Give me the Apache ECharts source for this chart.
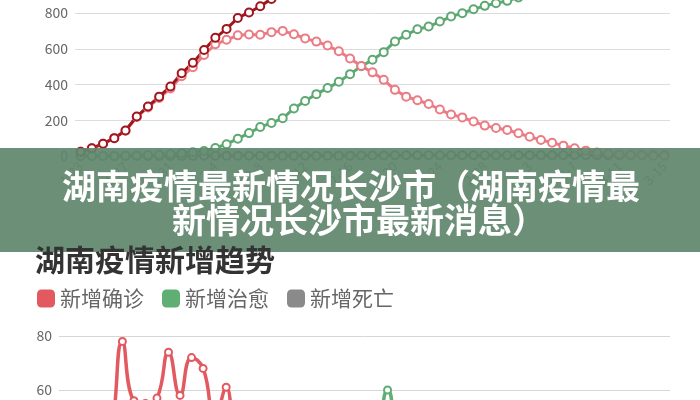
<!DOCTYPE html>
<html>
<head>
<meta charset="utf-8">
<script src="https://cdn.jsdelivr.net/npm/echarts@6/dist/echarts.min.js"></script>
<style>
html,body{margin:0;padding:0;background:#fff;overflow:hidden;width:700px;height:400px;}
#main{position:absolute;left:0;top:-100px;width:700px;height:800px;}
</style>
</head>
<body>
<div id="main"></div>
<script>
// Dates (1-23 .. 3-15)
const dates = ['1-23','1-24','1-25','1-26','1-27','1-28','1-29','1-30','1-31',
  '2-1','2-2','2-3','2-4','2-5','2-6','2-7','2-8','2-9','2-10','2-11','2-12','2-13','2-14','2-15','2-16','2-17','2-18','2-19','2-20','2-21','2-22','2-23','2-24','2-25','2-26','2-27','2-28','2-29',
  '3-1','3-2','3-3','3-4','3-5','3-6','3-7','3-8','3-9','3-10','3-11','3-12','3-13','3-14','3-15'];

// Top chart: cumulative numbers
const cumConfirmed = [24,43,69,100,143,221,277,332,389,
  463,521,593,661,711,772,803,838,879,912,946,968,988,1001,1004,1006,1007,1008,1010,1011,1013,1016,1016,1016,1016,1017,1017,1018,1018,
  1018,1018,1018,1018,1018,1018,1018,1018,1018,1018,1018,1018,1018,1018,1018];
const currentConfirmed = [24,43,69,100,141,218,272,324,378,
  446,497,565,625,650,675,680,678,693,700,681,658,640,618,586,545,503,468,426,370,332,312,291,260,232,216,193,170,157,
  146,127,108,90,74,58,43,30,20,13,9,6,4,2,1];
const cumCured = [0,0,0,0,2,3,5,7,11,
  15,21,28,45,66,97,128,162,185,211,266,308,346,380,415,458,502,538,581,641,678,709,724,752,780,799,821,840,855,
  868,887,906,924,940,956,971,984,994,1001,1005,1008,1010,1012,1013];
const cumDeaths = [0,0,0,0,0,0,0,0,0,
  0,0,1,1,1,1,1,2,2,2,2,2,2,2,2,2,3,3,3,4,4,4,4,4,4,4,4,4,4,
  4,4,4,4,4,4,4,4,4,4,4,4,4,4,4];

// Bottom chart: daily new numbers
const newConfirmed = [15,19,26,31,43,78,56,55,57,
  74,58,72,68,50,61,31,35,41,33,34,22,20,13,3,2,1,1,2,1,2,3,0,0,0,1,0,1,0,
  0,0,0,0,0,0,0,0,0,0,0,0,0,0,0];
const newCured = [0,0,0,0,2,1,2,2,4,
  4,6,7,17,21,31,31,34,23,26,50,42,38,34,35,43,44,36,43,60,37,31,15,28,28,19,22,19,15,
  13,19,19,18,16,16,15,13,10,7,4,3,2,2,1];
const newDeaths = [0,0,0,0,0,0,0,0,0,
  0,0,1,0,0,0,0,1,0,0,0,0,0,0,0,0,1,0,0,1,0,0,0,0,0,0,0,0,0,
  0,0,0,0,0,0,0,0,0,0,0,0,0,0,0];

const topTicks = [0, 1200, 200];
const bottomTicks = [0, 80, 20];
const bannerLines = ['湖南疫情最新情况长沙市（湖南疫情最', '新情况长沙市最新消息）'];
const bottomTitle = '湖南疫情新增趋势';
const legendNames = ['新增确诊', '新增治愈', '新增死亡'];

// The chart canvas is taller than the window and shifted up by OFF px,
// so both panels can extend beyond the visible 700x400 area.
const OFF = 100;
const FONT = '"Noto Sans CJK SC","Noto Sans",sans-serif';
const chart = echarts.init(document.getElementById('main'), null, {renderer: 'canvas'});

function topLine(name, data, color) {
  return {
    name: name, type: 'line', xAxisIndex: 0, yAxisIndex: 0, data: data,
    symbol: 'emptyCircle', symbolSize: 8, showAllSymbol: true,
    lineStyle: {width: 3, color: color},
    itemStyle: {color: color, borderWidth: 1.5},
    animation: false
  };
}
function botLine(name, data, color) {
  return {
    name: name, type: 'line', xAxisIndex: 1, yAxisIndex: 1, data: data,
    smooth: true, symbol: 'emptyCircle', symbolSize: 7, showAllSymbol: true,
    lineStyle: {width: 3.5, color: color},
    itemStyle: {color: color, borderWidth: 1.5},
    animation: false
  };
}

chart.setOption({
  animation: false,
  backgroundColor: '#fff',
  title: {
    text: bottomTitle, left: 35, top: 245 + OFF, padding: 0, z: 120,
    textStyle: {fontSize: 30, fontWeight: 'bold', color: '#333', fontFamily: FONT, lineHeight: 30}
  },
  legend: {
    data: legendNames, left: 37, top: 288 + OFF, padding: 0,
    icon: 'roundRect', itemWidth: 18, itemHeight: 18, itemGap: 18,
    textStyle: {fontSize: 21, color: '#666', fontFamily: FONT},
    selectedMode: false
  },
  grid: [
    {left: 75, right: 30, top: OFF - 58.5, bottom: 800 - (156 + OFF), containLabel: false},
    {left: 59, right: 30, top: 336 + OFF, bottom: 800 - (552 + OFF), containLabel: false}
  ],
  xAxis: [
    {
      type: 'category', gridIndex: 0, data: dates, boundaryGap: true,
      axisLine: {show: false}, axisTick: {show: false},
      axisLabel: {rotate: 45, interval: 3, color: '#777', fontSize: 13, fontFamily: FONT, margin: 8}
    },
    {
      type: 'category', gridIndex: 1, data: dates, boundaryGap: true,
      axisLine: {show: false}, axisTick: {show: false},
      axisLabel: {rotate: 45, interval: 3, color: '#777', fontSize: 13, fontFamily: FONT}
    }
  ],
  yAxis: [
    {
      type: 'value', gridIndex: 0, min: topTicks[0], max: topTicks[1], interval: topTicks[2],
      axisLine: {show: false}, axisTick: {show: false},
      axisLabel: {color: '#666', fontSize: 14, fontFamily: FONT, margin: 7},
      splitLine: {lineStyle: {color: '#dcdcdc', width: 1}}
    },
    {
      type: 'value', gridIndex: 1, min: bottomTicks[0], max: bottomTicks[1], interval: bottomTicks[2],
      axisLine: {show: false}, axisTick: {show: false},
      axisLabel: {color: '#666', fontSize: 14, fontFamily: FONT, margin: 7},
      splitLine: {lineStyle: {color: '#d6d6d6', width: 1}}
    }
  ],
  series: [
    topLine('累计死亡', cumDeaths, '#6f6f6f'),
    topLine('累计治愈', cumCured, '#5ea872'),
    topLine('现有确诊', currentConfirmed, '#ec7c84'),
    topLine('累计确诊', cumConfirmed, '#a0161d'),
    botLine('新增死亡', newDeaths, '#8a8a8a'),
    botLine('新增治愈', newCured, '#5fae74'),
    botLine('新增确诊', newConfirmed, '#e25a60')
  ],
  graphic: [
    {
      type: 'rect', z: 100, silent: true,
      shape: {x: 0, y: 148 + OFF, width: 700, height: 104},
      style: {fill: 'rgba(96,134,109,0.92)'}
    },
    {
      type: 'text', z: 101, silent: true, x: 62, y: 186 + OFF,
      style: {
        text: bannerLines[0], fill: '#fff',
        font: 'bold 34px ' + FONT,
        textAlign: 'left', textVerticalAlign: 'middle', align: 'left', verticalAlign: 'middle'
      }
    },
    {
      type: 'text', z: 101, silent: true, x: 172, y: 220 + OFF,
      style: {
        text: bannerLines[1], fill: '#fff',
        font: 'bold 34px ' + FONT,
        textAlign: 'left', textVerticalAlign: 'middle', align: 'left', verticalAlign: 'middle'
      }
    }
  ]
});
</script>
</body>
</html>
